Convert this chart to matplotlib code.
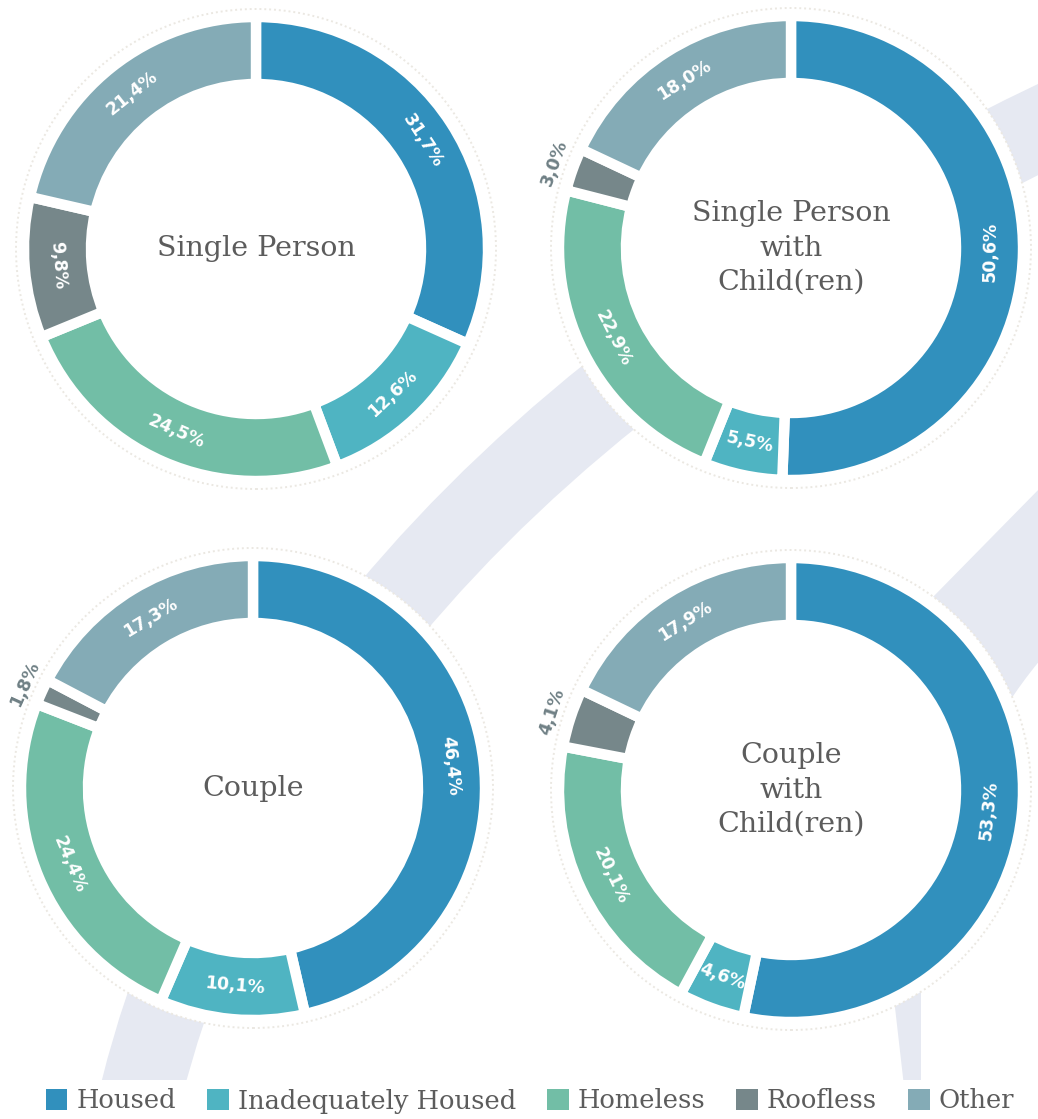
import numpy as np
import matplotlib
matplotlib.use('Agg')
import matplotlib.pyplot as plt
from matplotlib.patches import Circle, PathPatch, Patch, Rectangle
from matplotlib.path import Path

# 범주와 색상
categories = ['Housed', 'Inadequately Housed', 'Homeless', 'Roofless', 'Other']
colors = ['#3190bd', '#4fb4c2', '#72bea6', '#76878a', '#84abb6']

# 가구 유형별 비율 (%)
titles = ['Single Person', 'Single Person\nwith\nChild(ren)', 'Couple', 'Couple\nwith\nChild(ren)']
single_person = [31.7, 12.6, 24.5, 9.8, 21.4]
single_with_children = [50.6, 5.5, 22.9, 3.0, 18.0]
couple = [46.4, 10.1, 24.4, 1.8, 17.3]
couple_with_children = [53.3, 4.6, 20.1, 4.1, 17.9]
series = [single_person, single_with_children, couple, couple_with_children]

W, H = 1038, 1119
fig = plt.figure(figsize=(W / 100, H / 100), dpi=100)
ax = fig.add_axes([0, 0, 1, 1])

def px(x, y):
    # 픽셀 좌표(위에서부터) -> 데이터 좌표
    return (x, H - y)

# 배경 장식 띠
band_color = '#e6e9f2'
clip = Rectangle((0, H - 1080), W, 1080, transform=ax.transData, visible=False)

band1 = Path([px(132, 1130), px(275, 480), px(1100, 100)],
             [Path.MOVETO, Path.CURVE3, Path.CURVE3])
p1 = PathPatch(band1, fill=False, edgecolor=band_color, lw=82 * 0.72,
               capstyle='butt', zorder=0)
ax.add_patch(p1)
p1.set_clip_path(clip)

band2 = Path([px(1100, 427), px(930, 600),
              px(860, 670), px(880, 900), px(893, 990),
              px(909, 1130), px(921, 1130), px(921, 990),
              px(925, 850), px(980, 700), px(1100, 600),
              px(1100, 427)],
             [Path.MOVETO, Path.LINETO,
              Path.CURVE4, Path.CURVE4, Path.CURVE4,
              Path.LINETO, Path.LINETO, Path.LINETO,
              Path.CURVE4, Path.CURVE4, Path.CURVE4,
              Path.CLOSEPOLY])
p2 = PathPatch(band2, facecolor=band_color, edgecolor='none', zorder=0)
ax.add_patch(p2)
p2.set_clip_path(clip)

centers = [px(256, 249), px(791, 248), px(253, 788), px(791, 790)]

for vals, title, c in zip(series, titles, centers):
    # 도넛 뒤의 흰 원판
    ax.add_patch(Circle(c, 240, facecolor='white', edgecolor='#ebe8e2',
                        lw=1.4, ls=(0, (1, 1.5)), zorder=1))
    ax.add_patch(Circle(c, 163, facecolor='none', edgecolor='#efede9',
                        lw=1.0, ls=(0, (1, 1.5)), zorder=1))
    wedges, _ = ax.pie(vals, colors=colors, startangle=90, counterclock=False,
                       radius=232, center=c, frame=True,
                       wedgeprops=dict(width=67, edgecolor='white', linewidth=7.5))
    for w in wedges:
        w.set_zorder(2)
    for w, v in zip(wedges, vals):
        mid = (w.theta1 + w.theta2) / 2
        clock = (90 - mid) % 360
        rot = mid + 90 if 90 < clock < 270 else mid - 90
        if v < 4.5:
            r, col = 251, '#6f8085'
        else:
            r, col = 199, 'white'
        x = c[0] + r * np.cos(np.radians(mid))
        y = c[1] + r * np.sin(np.radians(mid))
        ax.text(x, y, f'{v:.1f}%'.replace('.', ','), rotation=rot,
                rotation_mode='anchor', ha='center', va='center',
                fontsize=12.5, fontweight='bold', color=col, zorder=3)
    ax.text(c[0], c[1], title, ha='center', va='center', fontsize=20.5,
            family='DejaVu Serif', color='#5c5c5c', linespacing=1.35, zorder=3)

ax.set_xlim(0, W)
ax.set_ylim(0, H)
ax.set_aspect('equal')
ax.axis('off')

# 범례
handles = [Patch(facecolor=col, edgecolor='none') for col in colors]
fig.legend(handles, categories, loc='center', bbox_to_anchor=(530 / W, 1 - 1101 / H),
           ncol=5, frameon=False, prop={'family': 'DejaVu Serif', 'size': 18.5},
           labelcolor='#5c5c5c', handlelength=0.85, handleheight=0.85,
           handletextpad=0.35, columnspacing=1.2)

fig.savefig('out.png', dpi=100, facecolor='white')
